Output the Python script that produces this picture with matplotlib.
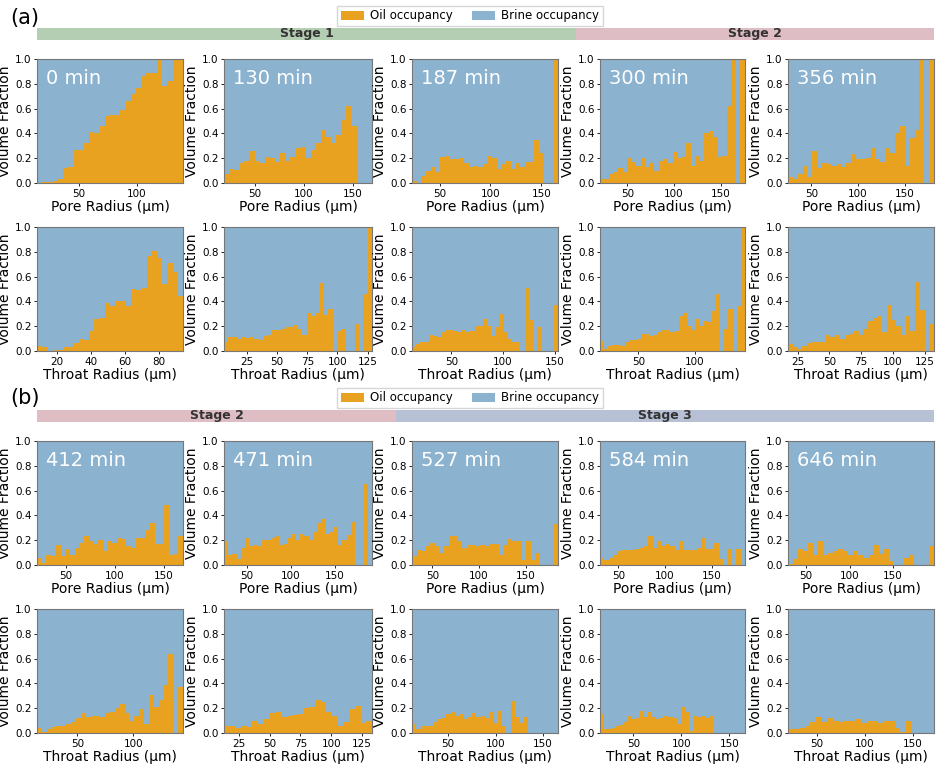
import numpy as np
import matplotlib
matplotlib.use("Agg")
import matplotlib.pyplot as plt
from matplotlib.patches import Rectangle, Patch

OIL = "#E9A21F"
BRINE = "#8BB2CF"

times_a = ["0 min", "130 min", "187 min", "300 min", "356 min"]
times_b = ["412 min", "471 min", "527 min", "584 min", "646 min"]

# ---- (a) pore radius ----
pore_a_xlim = [(13.8, 139.7), (18.3, 169.5), (22.8, 166.4), (20.7, 176.0), (25.0, 181.4)]
pore_a_oil = [
    [0, 0.005, 0.01, 0.02, 0.035, 0.12, 0.13, 0.27, 0.27, 0.32, 0.41, 0.40, 0.46, 0.54,
     0.55, 0.55, 0.59, 0.66, 0.72, 0.77, 0.86, 0.89, 0.89, 1.0, 0.78, 0.82, 1.0, 1.0],
    [0.07, 0.11, 0.105, 0.16, 0.18, 0.26, 0.18, 0.16, 0.21, 0.20, 0.17, 0.24, 0.18, 0.21,
     0.28, 0.29, 0.20, 0.27, 0.32, 0.43, 0.37, 0.32, 0.39, 0.51, 0.62, 0.46, 0, 0, 0],
    [0.02, 0, 0.06, 0.10, 0.13, 0.09, 0.21, 0.22, 0.19, 0.19, 0.20, 0.16, 0.13, 0.14,
     0.13, 0.15, 0.22, 0.20, 0.11, 0.15, 0.18, 0.11, 0.16, 0.13, 0.17, 0.17, 0.35, 0.24,
     0, 0, 1.0],
    [0.03, 0.03, 0.07, 0.09, 0.12, 0.09, 0.20, 0.17, 0.14, 0.20, 0.13, 0.16, 0.10, 0.18,
     0.19, 0.16, 0.25, 0.20, 0.21, 0.32, 0.14, 0.22, 0.18, 0.40, 0.42, 0.37, 0.21, 0.22,
     0.62, 1.0, 0, 1.0],
    [0.05, 0.03, 0.07, 0.14, 0.05, 0.26, 0.12, 0.16, 0.15, 0.14, 0.15, 0.13, 0.16, 0.23,
     0.19, 0.19, 0.20, 0.28, 0.19, 0.17, 0.28, 0.24, 0.40, 0.46, 0.14, 0.36, 0.43, 1.0,
     0, 1.0],
]
# ---- (a) throat radius ----
throat_a_xlim = [(8.5, 94.0), (6.1, 128.6), (12.0, 153.0), (16.2, 144.0), (17.4, 132.3)]
throat_a_ticks = [20, 25, 50, 50, 25]
throat_a_oil = [
    [0.04, 0.03, 0.0, 0.01, 0.01, 0.03, 0.035, 0.065, 0.10, 0.09, 0.16, 0.26, 0.27, 0.39,
     0.36, 0.40, 0.40, 0.36, 0.50, 0.49, 0.51, 0.77, 0.81, 0.75, 0.54, 0.71, 0.64, 0.44],
    [0.07, 0.11, 0.11, 0.10, 0.11, 0.105, 0.11, 0.10, 0.09, 0.12, 0.13, 0.17, 0.17, 0.18,
     0.19, 0.19, 0.21, 0.18, 0.13, 0.31, 0.28, 0.31, 0.55, 0.29, 0.34, 0, 0.16, 0.18, 0,
     0, 0.22, 0, 0.46, 1.0],
    [0.03, 0.06, 0.07, 0.07, 0.13, 0.12, 0.11, 0.15, 0.17, 0.17, 0.16, 0.15, 0.17, 0.15,
     0.16, 0.20, 0.20, 0.26, 0.20, 0.12, 0.19, 0.30, 0.15, 0.10, 0.07, 0.07, 0, 0.51, 0.25,
     0, 0.19, 0, 0, 0, 0.37],
    [0.08, 0.02, 0.04, 0.05, 0.05, 0.04, 0.07, 0.09, 0.09, 0.10, 0.14, 0.14, 0.12, 0.13,
     0.15, 0.17, 0.17, 0.15, 0.16, 0.28, 0.31, 0.20, 0.17, 0.26, 0.20, 0.24, 0.23, 0.32,
     0.46, 0, 0.18, 0.34, 0, 0.36, 1.0],
    [0.06, 0.035, 0.02, 0.04, 0.065, 0.07, 0.075, 0.07, 0.13, 0.11, 0.13, 0.10, 0.13, 0.14,
     0.16, 0.13, 0.18, 0.24, 0.27, 0.28, 0.15, 0.37, 0.25, 0.20, 0.13, 0.28, 0.16, 0.56,
     0.33, 0, 0.22],
]
# ---- (b) pore radius ----
pore_b_xlim = [(20.6, 169.3), (24.1, 191.8), (28.2, 184.6), (30.4, 185.7), (29.0, 197.0)]
pore_b_oil = [
    [0.06, 0.02, 0.08, 0.07, 0.16, 0.07, 0.13, 0.08, 0.14, 0.18, 0.23, 0.19, 0.17, 0.20,
     0.11, 0.19, 0.18, 0.22, 0.21, 0.15, 0.14, 0.22, 0.22, 0.28, 0.34, 0.17, 0.17, 0.48,
     0.08, 0.09, 0.23],
    [0.19, 0.08, 0.09, 0.05, 0.14, 0.22, 0.15, 0.16, 0.15, 0.20, 0.20, 0.22, 0.23, 0.16,
     0.17, 0.22, 0.25, 0.20, 0.25, 0.23, 0.20, 0.27, 0.34, 0.37, 0.25, 0.27, 0.31, 0.16,
     0.20, 0.24, 0.35, 0, 0, 0.65, 0],
    [0.07, 0.12, 0.11, 0.15, 0.18, 0.15, 0.10, 0.15, 0.23, 0.23, 0.19, 0.14, 0.16, 0.16,
     0.15, 0.16, 0.15, 0.17, 0.17, 0.08, 0.16, 0.21, 0.19, 0.19, 0.04, 0.19, 0.04, 0.10,
     0, 0, 0, 0.33],
    [0.06, 0.04, 0.06, 0.08, 0.11, 0.12, 0.12, 0.12, 0.13, 0.14, 0.15, 0.23, 0.14, 0.19,
     0.15, 0.17, 0.15, 0.12, 0.19, 0.12, 0.12, 0.12, 0.14, 0.22, 0.13, 0.13, 0.18, 0.05,
     0, 0.13, 0, 0.13, 0],
    [0.01, 0.05, 0.13, 0.11, 0.18, 0.08, 0.19, 0.08, 0.10, 0.11, 0.13, 0.11, 0.08, 0.11,
     0.08, 0.06, 0.08, 0.16, 0.09, 0.13, 0.03, 0, 0, 0.06, 0.08, 0, 0, 0, 0.15],
]
# ---- (b) throat radius ----
throat_b_xlim = [(13.7, 144.6), (13.0, 133.0), (12.2, 165.7), (15.3, 166.3), (20.0, 171.7)]
throat_b_ticks = [50, 25, 50, 50, 50]
throat_b_oil = [
    [0.04, 0.01, 0.03, 0.05, 0.055, 0.06, 0.07, 0.09, 0.12, 0.16, 0.13, 0.135, 0.14, 0.13,
     0.16, 0.17, 0.20, 0.23, 0.16, 0.10, 0.14, 0.19, 0.07, 0.31, 0.21, 0.27, 0.39, 0.64,
     0, 0.37],
    [0.06, 0.06, 0.04, 0.06, 0.05, 0.10, 0.07, 0.11, 0.16, 0.17, 0.13, 0.14, 0.145, 0.15,
     0.20, 0.21, 0.27, 0.25, 0.17, 0.14, 0.06, 0.09, 0.19, 0.22, 0.08, 0.10],
    [0.07, 0.03, 0.06, 0.06, 0.06, 0.09, 0.11, 0.12, 0.15, 0.17, 0.14, 0.15, 0.11, 0.13,
     0.16, 0.13, 0.14, 0.12, 0.17, 0.08, 0.18, 0.06, 0, 0.26, 0.13, 0.08, 0.13,
     0, 0, 0, 0, 0, 0, 0],
    [0.15, 0.03, 0.03, 0.04, 0.06, 0.065, 0.09, 0.14, 0.11, 0.12, 0.18, 0.13, 0.17, 0.13,
     0.11, 0.12, 0.14, 0.13, 0.12, 0.07, 0.21, 0.17, 0.02, 0.14, 0.13, 0.14, 0.12, 0.14,
     0, 0, 0, 0, 0, 0, 0, 0],
    [0.03, 0.03, 0.04, 0.06, 0.09, 0.13, 0.09, 0.12, 0.10, 0.09, 0.10, 0.10, 0.11, 0.08,
     0.10, 0.10, 0.08, 0.10, 0.10, 0.04, 0.01, 0.10, 0, 0, 0, 0],
]

FIG_W, FIG_H = 941, 764
fig = plt.figure(figsize=(FIG_W / 100, FIG_H / 100), dpi=100)

col_px = [(37, 183), (224, 372), (412, 558), (600, 745), (788, 934)]
row_px = [(59, 183), (227, 351), (441, 565), (609, 733)]


def ax_at(c, r):
    x0, x1 = col_px[c]
    y0, y1 = row_px[r]
    return fig.add_axes([x0 / FIG_W, 1 - y1 / FIG_H, (x1 - x0) / FIG_W, (y1 - y0) / FIG_H])


def panel(ax, xlim, oil, xlabel, tick_step, label=None):
    oil = np.asarray(oil, dtype=float)
    n = len(oil)
    edges = np.linspace(xlim[0], xlim[1], n + 1)
    w = edges[1] - edges[0]
    ax.set_facecolor(BRINE)
    ax.bar(edges[:-1], oil, width=w, align="edge", color=OIL, linewidth=0, zorder=2)
    ax.bar(edges[:-1], 1 - oil, bottom=oil, width=w, align="edge", color=BRINE,
           linewidth=0, zorder=2)
    ax.set_xlim(xlim)
    ax.set_ylim(0, 1)
    ax.xaxis.set_major_locator(matplotlib.ticker.MultipleLocator(tick_step))
    ax.set_yticks(np.arange(0, 1.01, 0.2))
    ax.yaxis.set_major_formatter(matplotlib.ticker.FormatStrFormatter("%.1f"))
    ax.tick_params(labelsize=7.5, length=2.5, width=0.6, pad=1.5)
    ax.grid(True, color="white", alpha=0.12, lw=0.8, zorder=3)
    for s in ax.spines.values():
        s.set_color("#777777")
        s.set_linewidth(0.8)
    ax.set_xlabel(xlabel, fontsize=10, labelpad=1)
    ax.set_ylabel("Volume Fraction", fontsize=10, labelpad=2)
    if label:
        ax.text(0.06, 0.92, label, transform=ax.transAxes, color="white",
                fontsize=14, va="top", ha="left", zorder=5)


for i in range(5):
    panel(ax_at(i, 0), pore_a_xlim[i], pore_a_oil[i], "Pore Radius (µm)", 50, times_a[i])
    panel(ax_at(i, 1), throat_a_xlim[i], throat_a_oil[i], "Throat Radius (µm)",
          throat_a_ticks[i])
    panel(ax_at(i, 2), pore_b_xlim[i], pore_b_oil[i], "Pore Radius (µm)", 50, times_b[i])
    panel(ax_at(i, 3), throat_b_xlim[i], throat_b_oil[i], "Throat Radius (µm)",
          throat_b_ticks[i])

# stage bars
stages_a = [("Stage 1", 37, 576, "#B4CEB4"), ("Stage 2", 576, 934, "#DFBDC4")]
stages_b = [("Stage 2", 37, 396, "#DFBDC4"), ("Stage 3", 396, 934, "#B8C0D5")]


def stage_bar(stages, ytop, h=12):
    for name, x0, x1, col in stages:
        fig.add_artist(Rectangle((x0 / FIG_W, 1 - (ytop + h) / FIG_H), (x1 - x0) / FIG_W,
                                 h / FIG_H, transform=fig.transFigure, color=col, lw=0))
        fig.text((x0 + x1) / 2 / FIG_W, 1 - (ytop + h / 2) / FIG_H, name, ha="center",
                 va="center", fontsize=9, fontweight="bold", color="#333333")


stage_bar(stages_a, 28)
stage_bar(stages_b, 410)

handles = [Patch(facecolor=OIL, label="Oil occupancy"),
           Patch(facecolor=BRINE, label="Brine occupancy")]
for yc in (16, 398):
    fig.legend(handles=handles, loc="center", bbox_to_anchor=(470 / FIG_W, 1 - yc / FIG_H),
               ncol=2, fontsize=8.5, frameon=True, handlelength=2.0, handleheight=0.9,
               handletextpad=0.5, borderpad=0.3, columnspacing=1.6, fancybox=False,
               edgecolor="#cccccc")

fig.text(10 / FIG_W, 1 - 18 / FIG_H, "(a)", fontsize=15, va="center", ha="left")
fig.text(10 / FIG_W, 1 - 398 / FIG_H, "(b)", fontsize=15, va="center", ha="left")

fig.savefig("out.png", dpi=100)
